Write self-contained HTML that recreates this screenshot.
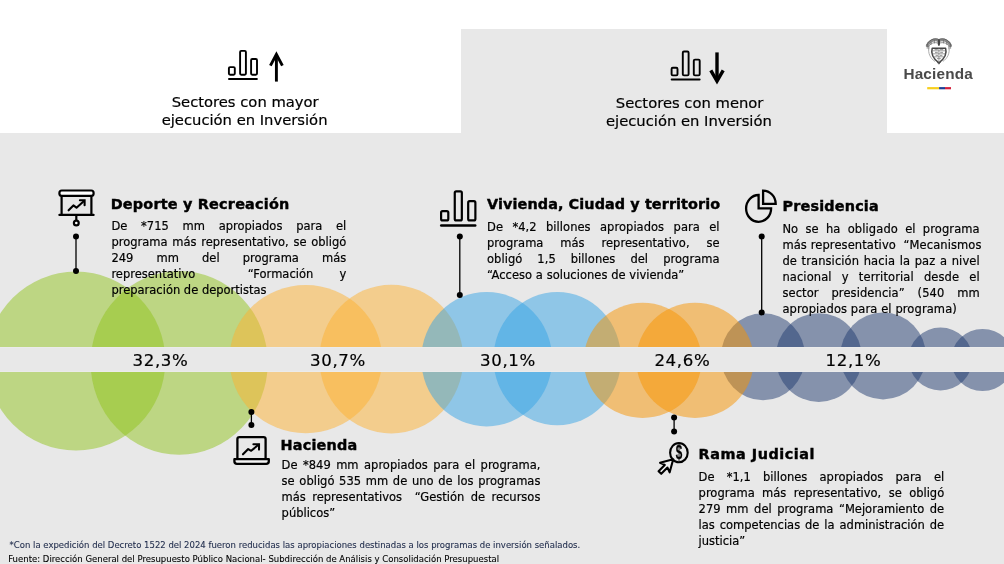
<!DOCTYPE html>
<html lang="es">
<head>
<meta charset="utf-8">
<title>Sectores con mayor y menor ejecución en Inversión</title>
<style>
html,body{margin:0;padding:0}
body{width:1004px;height:564px;overflow:hidden;background:#fff;position:relative;font-family:"DejaVu Sans", "Liberation Sans", sans-serif;color:#000}
.bg{position:absolute;background:#e8e8e8}
.tx{position:absolute;left:0;top:0;width:1004px;height:564px;will-change:transform}
.t{position:absolute;white-space:nowrap;margin:0;-webkit-text-stroke-width:0.2px}
.hdr{font-family:'DejaVu Sans',sans-serif;font-weight:400;font-size:14.75px;line-height:18px}
.ttl{font-family:'DejaVu Sans',sans-serif;font-weight:700;font-size:14.4px;line-height:18px}
.body{font-family:'DejaVu Sans',sans-serif;font-weight:400;font-size:11.5px;line-height:16px}
.pct{font-family:'DejaVu Sans',sans-serif;font-weight:400;font-size:16.6px;line-height:22px}
.foot{font-family:'DejaVu Sans',sans-serif;font-weight:400;font-size:8.5px;line-height:12px}
.logo{font-family:'Liberation Sans',sans-serif;font-weight:700;font-size:15.3px;line-height:18px}
.logo{-webkit-text-stroke-width:0}
.foot{-webkit-text-stroke-width:0.1px}
.ttl{-webkit-text-stroke-width:0.42px}
</style>
</head>
<body>
<div class="bg" style="left:0;top:133px;width:1004px;height:431px"></div>
<div class="bg" style="left:461px;top:29px;width:426px;height:105px"></div>
<svg width="1004" height="564" viewBox="0 0 1004 564" style="position:absolute;left:0;top:0;will-change:transform">
<ellipse cx="76.00" cy="361.05" rx="89.30" ry="89.45" fill="rgba(146,196,30,0.5)"/>
<ellipse cx="179.20" cy="362.85" rx="88.53" ry="91.85" fill="rgba(146,196,30,0.5)"/>
<ellipse cx="305.75" cy="359.15" rx="76.28" ry="74.05" fill="rgba(254,178,50,0.5)"/>
<ellipse cx="391.30" cy="359.10" rx="71.86" ry="74.40" fill="rgba(254,178,50,0.5)"/>
<ellipse cx="486.70" cy="359.20" rx="65.39" ry="67.20" fill="rgba(54,164,230,0.5)"/>
<ellipse cx="557.25" cy="358.65" rx="63.73" ry="66.65" fill="rgba(54,164,230,0.5)"/>
<ellipse cx="763.05" cy="356.70" rx="42.11" ry="43.50" fill="rgba(34,60,112,0.5)"/>
<ellipse cx="818.75" cy="357.60" rx="43.10" ry="44.40" fill="rgba(34,60,112,0.5)"/>
<ellipse cx="883.10" cy="355.90" rx="42.81" ry="43.50" fill="rgba(34,60,112,0.5)"/>
<ellipse cx="940.50" cy="359.00" rx="31.91" ry="31.50" fill="rgba(34,60,112,0.5)"/>
<ellipse cx="982.60" cy="360.00" rx="31.50" ry="31.00" fill="rgba(34,60,112,0.5)"/>
<ellipse cx="642.65" cy="360.40" rx="58.76" ry="57.60" fill="rgba(248,148,0,0.5)"/>
<ellipse cx="695.00" cy="360.40" rx="58.61" ry="57.60" fill="rgba(248,148,0,0.5)"/>
<rect x="0" y="347" width="1004" height="25" fill="#e8e8e8"/>
<path d="M0 347.5H1004M0 371.5H1004" stroke="#ebebeb" stroke-width="1" fill="none"/>
<g transform="translate(228,50) scale(1.0)" fill="none" stroke="#000" stroke-width="1.9" stroke-linejoin="round" stroke-linecap="round">
<rect x="0.9" y="17.1" width="5.9" height="7.7" rx="1.2"/>
<rect x="12.1" y="0.9" width="5.8" height="23.9" rx="1.2"/>
<rect x="23.1" y="9" width="5.9" height="15.8" rx="1.2"/>
<path d="M1 28.9H28.9" stroke-width="2"/>
</g>
<g fill="none" stroke="#000" stroke-width="2.9" stroke-linejoin="miter" stroke-linecap="butt"><path d="M276.4 81.6V55"/><path d="M270.4 65.6L276.4 54.4L282.4 65.6"/></g>
<g transform="translate(670.7,50.6) scale(1.0)" fill="none" stroke="#000" stroke-width="1.9" stroke-linejoin="round" stroke-linecap="round">
<rect x="0.9" y="17.1" width="5.9" height="7.7" rx="1.2"/>
<rect x="12.1" y="0.9" width="5.8" height="23.9" rx="1.2"/>
<rect x="23.1" y="9" width="5.9" height="15.8" rx="1.2"/>
<path d="M1 28.9H28.9" stroke-width="2"/>
</g>
<g fill="none" stroke="#000" stroke-width="3.4" stroke-linejoin="miter" stroke-linecap="butt"><path d="M717 52.4V79.600"/><path d="M710.8 70.300L717 81L723.2 70.300"/></g>
<g fill="none" stroke="#000" stroke-width="2.2" stroke-linejoin="round" stroke-linecap="round">
<rect x="59.4" y="190.5" width="34.2" height="5.4" rx="2.4" fill="#fff"/>
<path d="M61.6 196V214.6M91.4 196V214.6"/>
<path d="M59.4 214.9H93.6" stroke-width="2.2"/>
<path d="M76.3 216V220"/>
<circle cx="76.3" cy="223" r="2.4" fill="#fff"/>
<path d="M68.6 210.3L73.4 205.4L76.5 207.7L84 201" stroke-width="2.1"/>
<path d="M79.9 200.3H84.6V205.2" stroke-width="2.1" stroke-linejoin="miter"/>
</g>
<path d="M76 236.6V271" stroke="#000" stroke-width="1.3" fill="none"/><circle cx="76" cy="236.6" r="3.0" fill="#000"/><circle cx="76" cy="271" r="3.0" fill="#000"/>
<g transform="translate(440,190.2) scale(1.22)" fill="none" stroke="#000" stroke-width="1.8" stroke-linejoin="round" stroke-linecap="round">
<rect x="0.9" y="17.1" width="5.9" height="7.7" rx="1.2"/>
<rect x="12.1" y="0.9" width="5.8" height="23.9" rx="1.2"/>
<rect x="23.1" y="9" width="5.9" height="15.8" rx="1.2"/>
<path d="M1 28.9H28.9" stroke-width="2"/>
</g>
<path d="M459.8 236.4V294.9" stroke="#000" stroke-width="1.3" fill="none"/><circle cx="459.8" cy="236.4" r="3.0" fill="#000"/><circle cx="459.8" cy="294.9" r="3.0" fill="#000"/>
<g fill="none" stroke="#000" stroke-width="2.3" stroke-linejoin="miter">
<path d="M758.6 195V208.4H771.1A12.5 13.4 0 1 1 758.6 195Z"/>
<path d="M763.1 190.7V203.9H775.7A12.6 13.2 0 0 0 763.1 190.7Z"/>
</g>
<path d="M761.7 236.4V312.4" stroke="#000" stroke-width="1.3" fill="none"/><circle cx="761.7" cy="236.4" r="3.0" fill="#000"/><circle cx="761.7" cy="312.4" r="3.0" fill="#000"/>
<g fill="none" stroke="#000" stroke-width="2.3" stroke-linejoin="round" stroke-linecap="round">
<path d="M237.4 458.4V439.1Q237.4 437.1 239.4 437.1H263.6Q265.6 437.1 265.6 439.1V458.4"/>
<path d="M234.4 459.2H268.8V461.2Q268.8 463.8 266.2 463.8H237Q234.4 463.8 234.4 461.2Z" fill="#f4f4f4"/>
<path d="M243 454.3L248.2 449.1L251.2 450.8L258.4 444.8" stroke-width="2.1"/>
<path d="M253.4 444.2H259V449.6" stroke-width="2.1" stroke-linejoin="miter"/>
</g>
<path d="M251.4 412V425" stroke="#000" stroke-width="1.3" fill="none"/><circle cx="251.4" cy="412" r="3.0" fill="#000"/><circle cx="251.4" cy="425" r="3.0" fill="#000"/>
<g fill="none" stroke="#000" stroke-width="2.1" stroke-linejoin="round">
<ellipse cx="678.9" cy="452.7" rx="8.8" ry="9.6"/>
<g transform="translate(674.2,458.2) rotate(-135)">
<path d="M0 1.4L6.8 13.2L1.9 11.4V20.2H-1.9V11.4L-6.8 13.2Z" fill="#f2f2f2" transform="scale(1,-1)"/>
</g>
</g>
<text transform="translate(678.9,459.3) scale(0.6,1.04)" text-anchor="middle" font-family='"Liberation Sans", sans-serif' font-weight="700" font-size="19.5" fill="#000" stroke="#000" stroke-width="0.3">$</text>
<path d="M674.1 417.4V431.5" stroke="#000" stroke-width="1.3" fill="none"/><circle cx="674.1" cy="417.4" r="3.0" fill="#000"/><circle cx="674.1" cy="431.5" r="3.0" fill="#000"/>
<g fill="none" stroke="#5a5a5a" stroke-width="0.8" stroke-linecap="round" stroke-linejoin="round">
<path d="M927.3 45.6C928.6 41.6 933.8 38.4 938.9 40.6C944 38.4 949.2 41.6 950.5 45.6" stroke="#8a8a8a" stroke-width="3"/>
<path d="M927 44.8C928.4 40.6 933.8 37.400 938.9 39.6C944 37.400 949.4 40.6 950.8 44.8"/>
<path d="M928.6 46.800C929.8 43.600 934 41.400 938.9 43.400C943.8 41.400 948 43.600 949.2 46.800" stroke="#666" stroke-width="0.7"/>
<path d="M927.2 44.6V48.400M928.8 46.400V49M950.600 44.600V48.400M949 46.400V49M931 42V44.600M934.400 40.400V43M943.400 40.400V43M946.800 42V44.600" stroke-width="0.6"/>
<ellipse cx="938.9" cy="42.6" rx="1.2" ry="3.4" fill="#444" stroke="none"/>
<path d="M932.2 48.200C930.800 53.200 933.200 58.600 938.900 62.800C944.600 58.600 947 53.200 945.600 48.200Z" fill="#fff" stroke="#454545" stroke-width="1.5"/>
<path d="M932.600 50.800H945.200M932.600 53.800H945.200M933.800 56.800H944M938.900 48.600V62" stroke="#777" stroke-width="0.7"/>
<path d="M935 49.600h2.400M940.400 49.600h2.400M935.400 52.400h2M940.600 52.400h2M936 55.400h1.600M940.400 55.400h1.600M937.400 58.600h3" stroke="#8a8a8a" stroke-width="0.9"/>
<path d="M928.800 47.600C927.800 53.400 930.400 58.400 934.600 61.200M949 47.600C950 53.400 947.400 58.400 943.200 61.200" stroke="#8a8a8a" stroke-width="0.7"/>
<path d="M937.400 62.400L938.900 64.200L940.400 62.400" stroke="#555" stroke-width="0.9"/>
</g>
<rect x="927.2" y="87.100" width="11.900" height="2.200" fill="#f7cf1d"/>
<rect x="939.100" y="87.100" width="5.900" height="2.200" fill="#1c3f94"/>
<rect x="945" y="87.100" width="6" height="2.200" fill="#d4213d"/>
</svg>
<div class="tx">
<div class="t hdr" style="left:95.2px;top:93px;width:300.0px;text-align:center;">Sectores con mayor</div>
<div class="t hdr" style="left:94.6px;top:111px;width:300.0px;text-align:center;">ejecución en Inversión</div>
<div class="t hdr" style="left:539.6px;top:94px;width:300.0px;text-align:center;">Sectores con menor</div>
<div class="t hdr" style="left:538.9px;top:112px;width:300.0px;text-align:center;">ejecución en Inversión</div>
<div class="t logo" style="left:903.4px;top:65px;letter-spacing:0.2px;color:#4a4a4a;">Hacienda</div>
<div class="t ttl" style="left:110.7px;top:195px;letter-spacing:0.21px;">Deporte y Recreación</div>
<div class="t body" style="left:111.4px;top:218px;width:234.9px;text-align:justify;text-align-last:justify;">De *715 mm apropiados para el</div>
<div class="t body" style="left:111.4px;top:234px;width:234.9px;text-align:justify;text-align-last:justify;">programa más representativo, se obligó</div>
<div class="t body" style="left:111.4px;top:250px;width:234.9px;text-align:justify;text-align-last:justify;">249 mm del programa más</div>
<div class="t body" style="left:111.4px;top:266px;width:234.9px;text-align:justify;text-align-last:justify;">representativo&nbsp; “Formación y</div>
<div class="t body" style="left:111.4px;top:282px;width:234.9px;">preparación de deportistas</div>
<div class="t ttl" style="left:487.1px;top:195px;letter-spacing:0.09px;">Vivienda, Ciudad y territorio</div>
<div class="t body" style="left:487.0px;top:219px;width:232.6px;letter-spacing:0.04px;text-align:justify;text-align-last:justify;">De *4,2 billones apropiados para el</div>
<div class="t body" style="left:487.0px;top:235px;width:232.6px;letter-spacing:0.04px;text-align:justify;text-align-last:justify;">programa más representativo, se</div>
<div class="t body" style="left:487.0px;top:251px;width:232.6px;letter-spacing:0.04px;text-align:justify;text-align-last:justify;">obligó 1,5 billones del programa</div>
<div class="t body" style="left:487.0px;top:267px;width:232.6px;letter-spacing:0.04px;">“Acceso a soluciones de vivienda”</div>
<div class="t ttl" style="left:782.5px;top:197px;letter-spacing:0.18px;">Presidencia</div>
<div class="t body" style="left:782.4px;top:221px;width:197.4px;letter-spacing:0.1px;text-align:justify;text-align-last:justify;">No se ha obligado el programa</div>
<div class="t body" style="left:782.4px;top:237px;width:197.4px;letter-spacing:0.1px;text-align:justify;text-align-last:justify;">más representativo&nbsp; “Mecanismos</div>
<div class="t body" style="left:782.4px;top:253px;width:197.4px;letter-spacing:0.1px;text-align:justify;text-align-last:justify;">de transición hacia la paz a nivel</div>
<div class="t body" style="left:782.4px;top:269px;width:197.4px;letter-spacing:0.1px;text-align:justify;text-align-last:justify;">nacional y territorial desde el</div>
<div class="t body" style="left:782.4px;top:285px;width:197.4px;letter-spacing:0.1px;text-align:justify;text-align-last:justify;">sector presidencia” (540 mm</div>
<div class="t body" style="left:782.4px;top:301px;width:197.4px;letter-spacing:0.1px;">apropiados para el programa)</div>
<div class="t ttl" style="left:280.5px;top:436px;letter-spacing:0.21px;">Hacienda</div>
<div class="t body" style="left:281.6px;top:457px;width:258.8px;text-align:justify;text-align-last:justify;">De *849 mm apropiados para el programa,</div>
<div class="t body" style="left:281.6px;top:473px;width:258.8px;text-align:justify;text-align-last:justify;">se obligó 535 mm de uno de los programas</div>
<div class="t body" style="left:281.6px;top:489px;width:258.8px;text-align:justify;text-align-last:justify;">más representativos&nbsp; “Gestión de recursos</div>
<div class="t body" style="left:281.6px;top:505px;width:258.8px;">públicos”</div>
<div class="t ttl" style="left:698.5px;top:445px;letter-spacing:0.55px;">Rama Judicial</div>
<div class="t body" style="left:698.6px;top:469px;width:245.6px;text-align:justify;text-align-last:justify;">De *1,1 billones apropiados para el</div>
<div class="t body" style="left:698.6px;top:485px;width:245.6px;text-align:justify;text-align-last:justify;">programa más representativo, se obligó</div>
<div class="t body" style="left:698.6px;top:501px;width:245.6px;text-align:justify;text-align-last:justify;">279 mm del programa “Mejoramiento de</div>
<div class="t body" style="left:698.6px;top:517px;width:245.6px;text-align:justify;text-align-last:justify;">las competencias de la administración de</div>
<div class="t body" style="left:698.6px;top:533px;width:245.6px;">justicia”</div>
<div class="t pct" style="left:110.5px;top:350px;width:100.0px;letter-spacing:0.65px;text-align:center;">32,3%</div>
<div class="t pct" style="left:288.0px;top:350px;width:100.0px;letter-spacing:0.65px;text-align:center;">30,7%</div>
<div class="t pct" style="left:458.0px;top:350px;width:100.0px;letter-spacing:0.65px;text-align:center;">30,1%</div>
<div class="t pct" style="left:632.4px;top:350px;width:100.0px;letter-spacing:0.65px;text-align:center;">24,6%</div>
<div class="t pct" style="left:803.5px;top:350px;width:100.0px;letter-spacing:0.65px;text-align:center;">12,1%</div>
<div class="t foot" style="left:9.6px;top:539px;color:#232f4e;">*Con la expedición del Decreto 1522 del 2024 fueron reducidas las apropiaciones destinadas a los programas de inversión señalados.</div>
<div class="t foot" style="left:8.2px;top:553px;letter-spacing:0.012px;">Fuente: Dirección General del Presupuesto Público Nacional- Subdirección de Análisis y Consolidación Presupuestal</div>
</div>
</body>
</html>
